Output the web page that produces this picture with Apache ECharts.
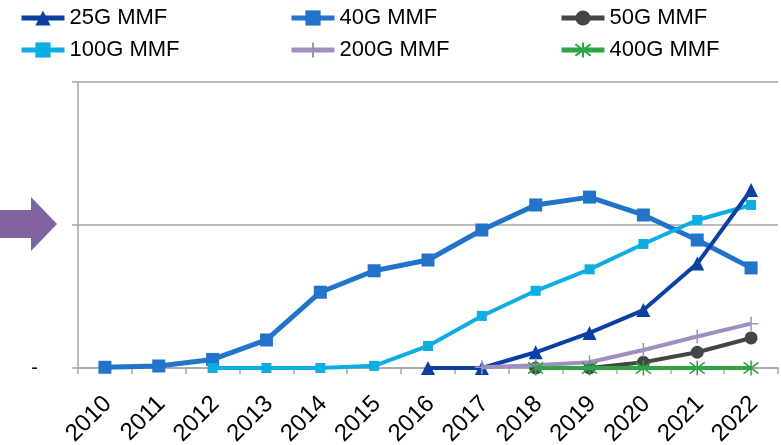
<!DOCTYPE html>
<html>
<head>
<meta charset="utf-8">
<script src="https://cdn.jsdelivr.net/npm/echarts@6/dist/echarts.min.js"></script>
<style>
  html, body { margin: 0; padding: 0; background: #fff; }
  #chart { width: 781px; height: 445px; }
</style>
</head>
<body>
<div id="chart"></div>
<script>
// Port shipments by speed, multimode fibre (relative units)
const years = ['2010','2011','2012','2013','2014','2015','2016','2017','2018','2019','2020','2021','2022'];
const mmf25  = [null, null, null, null, null, null, 0, 0, 0.11, 0.245, 0.405, 0.73, 1.245];
const mmf40  = [0.005, 0.014, 0.06, 0.196, 0.53, 0.68, 0.755, 0.965, 1.14, 1.195, 1.07, 0.895, 0.70];
const mmf50  = [null, null, null, null, null, null, null, null, 0, 0, 0.04, 0.11, 0.21];
const mmf100 = [null, null, 0, 0, 0, 0.015, 0.154, 0.364, 0.54, 0.69, 0.867, 1.035, 1.14];
const mmf200 = [null, null, null, null, null, null, null, 0.005, 0.02, 0.04, 0.126, 0.22, 0.31];
const mmf400 = [null, null, null, null, null, null, null, null, 0, 0, 0, 0, 0];
const yTicks = { min: 0, max: 2, step: 1 };

const FONT = '"Liberation Sans", Arial, sans-serif';
const AXIS_GREY = '#a6a6a6';

const PLUS = 'path://M6,0L6,12M0,6L12,6';
const STAR = 'path://M6,0L6,12M1.5,1.5L10.5,10.5M1.5,10.5L10.5,1.5';

const seriesDefs = [
  { name: '25G MMF',  data: mmf25,  color: '#0a3fa3', symbol: 'triangle', size: 14, width: 4, z: 4 },
  { name: '40G MMF',  data: mmf40,  color: '#2174c9', symbol: 'rect',     size: 13, width: 5, z: 2 },
  { name: '50G MMF',  data: mmf50,  color: '#454545', symbol: 'circle',   size: 13, width: 4, z: 5 },
  { name: '100G MMF', data: mmf100, color: '#0cade3', symbol: 'rect',     size: 10, width: 4, z: 3 },
  { name: '200G MMF', data: mmf200, color: '#9f8fbf', symbol: PLUS,       size: 14, width: 4, z: 6, stroke: true },
  { name: '400G MMF', data: mmf400, color: '#2ea444', symbol: STAR,       size: 15, width: 4, z: 7, stroke: true }
];

const series = seriesDefs.map(d => ({
  name: d.name,
  type: 'line',
  data: d.data,
  z: d.z,
  symbol: d.symbol,
  symbolSize: d.size,
  showAllSymbol: true,
  connectNulls: false,
  animation: false,
  lineStyle: { color: d.color, width: d.width },
  itemStyle: d.stroke
    ? { color: 'rgba(0,0,0,0)', borderColor: d.color, borderWidth: 1.5 }
    : { color: d.color, borderWidth: 0 },
  emphasis: { disabled: true }
}));

// legend: 3 columns x 2 rows
const legendCols = [19, 289, 559];
const legendRows = [7, 39];
const legends = seriesDefs.map((d, i) => ({
  show: true,
  left: legendCols[i % 3],
  top: legendRows[Math.floor(i / 3)],
  data: [d.name],
  itemWidth: 43,
  itemHeight: 19,
  itemGap: 0,
  padding: 0,
  selectedMode: false,
  lineStyle: { width: 5 },
  textStyle: { fontFamily: FONT, fontSize: 22, color: '#000' }
}));

const chart = echarts.init(document.getElementById('chart'), null, { renderer: 'canvas' });
chart.setOption({
  backgroundColor: '#ffffff',
  animation: false,
  legend: legends,
  grid: { left: 78, right: 3, top: 82, bottom: 77, containLabel: false, outerBoundsMode: 'none' },
  xAxis: {
    type: 'category',
    data: years,
    boundaryGap: true,
    axisLine: { show: true, lineStyle: { color: AXIS_GREY, width: 1.5 } },
    axisTick: { show: true, length: 6, lineStyle: { color: AXIS_GREY, width: 1.5 } },
    axisLabel: {
      rotate: 45,
      interval: 0,
      margin: 18,
      align: 'right',
      verticalAlign: 'top',
      padding: [0, 8, 0, 0],
      fontFamily: FONT,
      fontSize: 24,
      color: '#000'
    },
    splitLine: { show: false }
  },
  yAxis: {
    type: 'value',
    min: yTicks.min,
    max: yTicks.max,
    interval: yTicks.step,
    axisLine: { show: true, lineStyle: { color: AXIS_GREY, width: 1.5 } },
    axisTick: { show: true, length: 6, lineStyle: { color: AXIS_GREY, width: 1.5 } },
    axisLabel: {
      margin: 40,
      fontFamily: FONT,
      fontSize: 20,
      color: '#000',
      formatter: v => (v === 0 ? '-' : '')
    },
    splitLine: { show: true, lineStyle: { color: AXIS_GREY, width: 1.5 } }
  },
  graphic: [{
    type: 'polygon',
    silent: true,
    shape: { points: [[0, 210], [31, 210], [31, 197], [57, 224], [31, 251], [31, 238], [0, 238]] },
    style: { fill: '#8064a2' }
  }],
  series: series
});
</script>
</body>
</html>
